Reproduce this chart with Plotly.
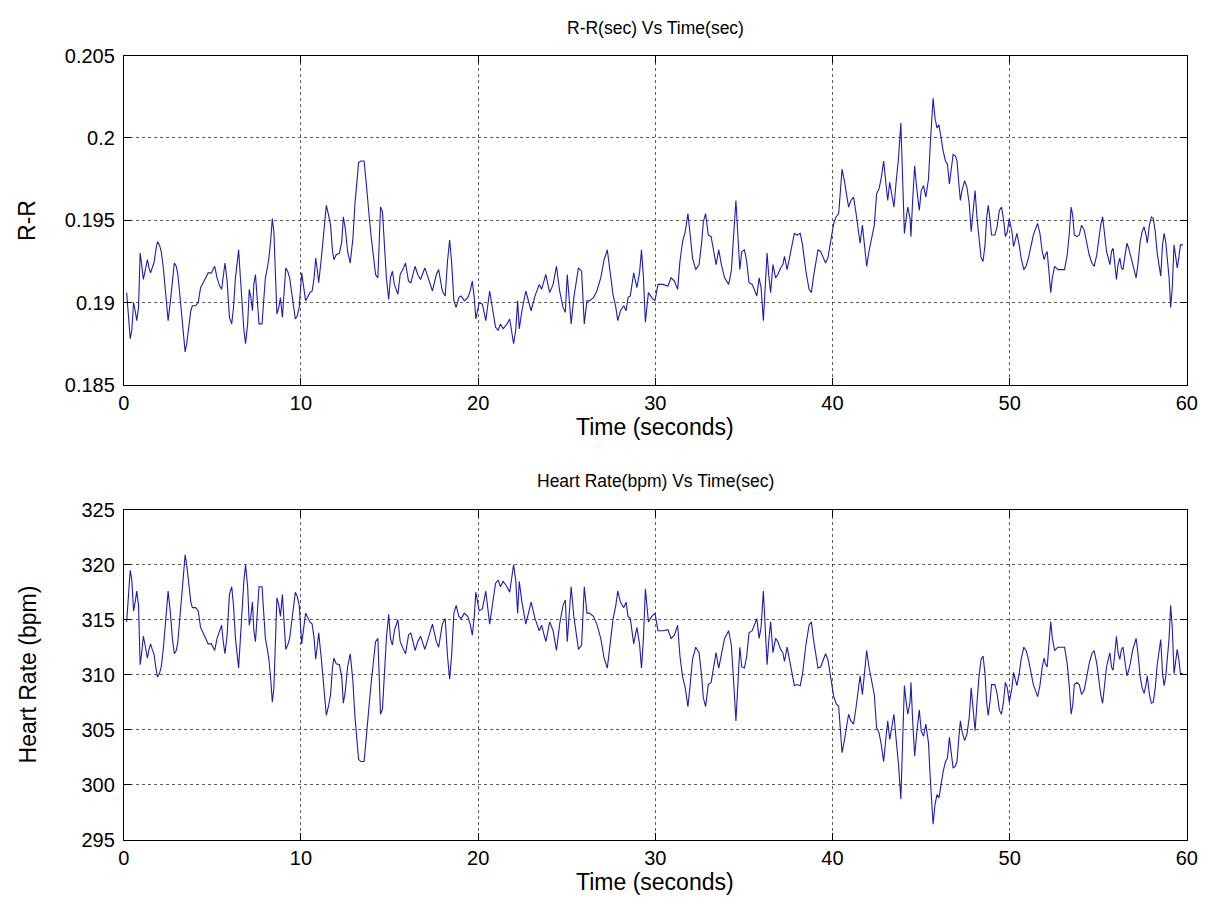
import plotly.graph_objects as go

# ---------------- data ----------------
time_s = [
    0.16, 0.25, 0.36, 0.45, 0.55, 0.64, 0.73, 0.83, 0.92, 1.01,
    1.10, 1.20, 1.33, 1.42, 1.51, 1.60, 1.70, 1.81, 1.90, 2.01,
    2.11, 2.22, 2.35, 2.50, 2.63, 2.74, 2.85, 2.96, 3.05, 3.14,
    3.27, 3.37, 3.46, 3.55, 3.66, 3.78, 3.87, 4.05, 4.20, 4.33,
    4.48, 4.63, 4.76, 4.94, 5.13, 5.26, 5.41, 5.52, 5.61, 5.71,
    5.83, 5.96, 6.09, 6.19, 6.30, 6.39, 6.48, 6.58, 6.69, 6.78,
    6.87, 6.99, 7.08, 7.17, 7.26, 7.34, 7.43, 7.52, 7.63, 7.80,
    7.89, 7.99, 8.10, 8.19, 8.30, 8.38, 8.47, 8.54, 8.64, 8.75,
    8.84, 8.95, 9.04, 9.14, 9.25, 9.36, 9.45, 9.56, 9.68, 9.79,
    9.90,
    10.04, 10.26, 10.50, 10.63, 10.74, 10.83, 10.93, 11.00, 11.15, 11.30,
    11.43, 11.56, 11.67, 11.78, 11.86, 11.99, 12.17, 12.30, 12.39, 12.50,
    12.63, 12.78, 12.93, 13.04, 13.15, 13.25, 13.38, 13.56, 13.67, 13.75,
    13.86, 13.97, 14.08, 14.21, 14.34, 14.42, 14.49, 14.60, 14.71, 14.82,
    14.95, 15.05, 15.16, 15.27, 15.47, 15.60, 15.79, 15.90, 16.07, 16.20,
    16.44, 16.59, 16.75, 16.99, 17.18, 17.42, 17.64, 17.77, 17.98, 18.14,
    18.27, 18.39, 18.50, 18.63, 18.76, 18.91, 19.04, 19.22, 19.41, 19.55,
    19.67, 19.78, 19.87,
    20.06, 20.24, 20.43, 20.65, 20.80, 20.98, 21.13, 21.26, 21.41, 21.63,
    21.78, 22.00, 22.12, 22.23, 22.32, 22.47, 22.69, 22.84, 22.99, 23.21,
    23.45, 23.58, 23.82, 24.04, 24.23, 24.42, 24.60, 24.79, 24.92, 25.03,
    25.25, 25.40, 25.53, 25.66, 25.84, 25.99, 26.14, 26.27, 26.51, 26.70,
    26.92, 27.11, 27.29, 27.44, 27.61, 27.77, 27.88, 28.03, 28.22, 28.35,
    28.46, 28.59, 28.78, 28.96, 29.11, 29.22, 29.33, 29.44, 29.61, 29.80,
    29.98,
    30.15, 30.43, 30.71, 30.89, 31.08, 31.26, 31.39, 31.54, 31.69, 31.84,
    31.95, 32.10, 32.28, 32.47, 32.62, 32.71, 32.84, 32.99, 33.15, 33.30,
    33.43, 33.58, 33.73, 33.91, 34.14, 34.29, 34.42, 34.55, 34.66, 34.77,
    34.88, 35.03, 35.16, 35.29, 35.47, 35.62, 35.73, 35.86, 35.97, 36.10,
    36.22, 36.31, 36.40, 36.51, 36.64, 36.79, 36.92, 37.07, 37.20, 37.29,
    37.44, 37.57, 37.70, 37.85, 38.00, 38.18, 38.31, 38.50, 38.68, 38.81,
    38.92, 39.05, 39.18, 39.33, 39.48, 39.61, 39.74, 39.89,
    40.07, 40.20, 40.35, 40.45, 40.54, 40.67, 40.78, 40.91, 41.04, 41.19,
    41.32, 41.43, 41.56, 41.69, 41.82, 41.93, 42.06, 42.21, 42.36, 42.49,
    42.63, 42.76, 42.89, 43.04, 43.12, 43.23, 43.36, 43.47, 43.60, 43.73,
    43.86, 43.97, 44.06, 44.16, 44.25, 44.38, 44.43, 44.53, 44.64, 44.75,
    44.90, 45.01, 45.14, 45.27, 45.42, 45.51, 45.60, 45.68, 45.79, 45.90,
    46.01, 46.14, 46.25, 46.38, 46.49, 46.60, 46.72, 46.81, 46.94, 47.03,
    47.12, 47.22, 47.31, 47.46, 47.59, 47.72, 47.83, 47.96, 48.05, 48.16,
    48.27, 48.39, 48.50, 48.61, 48.70, 48.79, 48.89, 48.98, 49.17, 49.29,
    49.42, 49.54, 49.65, 49.76, 49.87, 49.98,
    50.13, 50.22, 50.32, 50.41, 50.54, 50.65, 50.80, 50.93, 51.06, 51.19,
    51.34, 51.47, 51.58, 51.71, 51.84, 51.95, 52.02, 52.12, 52.21, 52.32,
    52.41, 52.54, 52.73, 52.91, 53.10, 53.25, 53.36, 53.47, 53.56, 53.65,
    53.80, 53.93, 54.06, 54.21, 54.36, 54.49, 54.64, 54.77, 54.92, 55.05,
    55.14, 55.25, 55.36, 55.47, 55.57, 55.66, 55.75, 55.84, 55.94, 56.03,
    56.12, 56.22, 56.31, 56.40, 56.49, 56.62, 56.72, 56.81, 56.94, 57.05,
    57.14, 57.24, 57.37, 57.48, 57.59, 57.70, 57.77, 57.89, 58.00, 58.11,
    58.22, 58.33, 58.44, 58.53, 58.63, 58.72, 58.81, 58.90, 59.00, 59.09,
    59.18, 59.28, 59.37, 59.46, 59.55, 59.64, 59.78,
]

rr_sec = [
    0.1906, 0.1892, 0.1878, 0.1883, 0.1900, 0.1895, 0.1889, 0.1897, 0.1930, 0.1923,
    0.1914, 0.1919, 0.1926, 0.1921, 0.1918, 0.1921, 0.1924, 0.1932, 0.1937, 0.1935,
    0.1931, 0.1922, 0.1908, 0.1889, 0.1901, 0.1915, 0.1924, 0.1922, 0.1917, 0.1907,
    0.1891, 0.1879, 0.1870, 0.1875, 0.1885, 0.1895, 0.1898, 0.1898, 0.1900, 0.1909,
    0.1912, 0.1915, 0.1918, 0.1918, 0.1922, 0.1915, 0.1910, 0.1908, 0.1917, 0.1924,
    0.1913, 0.1891, 0.1887, 0.1897, 0.1915, 0.1925, 0.1932, 0.1915, 0.1895, 0.1883,
    0.1875, 0.1887, 0.1908, 0.1903, 0.1895, 0.1911, 0.1917, 0.1903, 0.1887, 0.1887,
    0.1901, 0.1915, 0.1921, 0.1927, 0.1939, 0.1951, 0.1943, 0.1923, 0.1893, 0.1897,
    0.1903, 0.1891, 0.1903, 0.1921, 0.1919, 0.1915, 0.1908, 0.1899, 0.1890, 0.1892,
    0.1897,
    0.1918, 0.1901, 0.1906, 0.1907, 0.1915, 0.1927, 0.1919, 0.1912, 0.1927, 0.1943,
    0.1959, 0.1953, 0.1947, 0.1931, 0.1926, 0.1929, 0.1930, 0.1937, 0.1952, 0.1945,
    0.1931, 0.1924, 0.1939, 0.1959, 0.1974, 0.1985, 0.1986, 0.1986, 0.1974, 0.1966,
    0.1951, 0.1939, 0.1927, 0.1917, 0.1915, 0.1935, 0.1958, 0.1955, 0.1935, 0.1915,
    0.1902, 0.1915, 0.1919, 0.1911, 0.1905, 0.1917, 0.1921, 0.1924, 0.1913, 0.1912,
    0.1922, 0.1917, 0.1914, 0.1921, 0.1915, 0.1907, 0.1917, 0.1920, 0.1907, 0.1904,
    0.1925, 0.1938, 0.1925, 0.1901, 0.1897, 0.1903, 0.1904, 0.1901, 0.1903, 0.1907,
    0.1913, 0.1903, 0.1890,
    0.1900, 0.1899, 0.1889, 0.1907, 0.1897, 0.1885, 0.1883, 0.1887, 0.1884, 0.1887,
    0.1890, 0.1875, 0.1883, 0.1901, 0.1884, 0.1895, 0.1907, 0.1901, 0.1895, 0.1904,
    0.1911, 0.1908, 0.1917, 0.1906, 0.1911, 0.1922, 0.1907, 0.1897, 0.1894, 0.1917,
    0.1887, 0.1903, 0.1911, 0.1921, 0.1919, 0.1887, 0.1901, 0.1901, 0.1903, 0.1907,
    0.1915, 0.1926, 0.1932, 0.1919, 0.1905, 0.1897, 0.1889, 0.1895, 0.1898, 0.1895,
    0.1903, 0.1904, 0.1918, 0.1909, 0.1918, 0.1932, 0.1915, 0.1888, 0.1906, 0.1903,
    0.1901,
    0.1911, 0.1911, 0.1910, 0.1915, 0.1913, 0.1908, 0.1925, 0.1937, 0.1943, 0.1954,
    0.1943, 0.1927, 0.1920, 0.1923, 0.1937, 0.1949, 0.1954, 0.1941, 0.1940, 0.1931,
    0.1923, 0.1932, 0.1923, 0.1915, 0.1911, 0.1919, 0.1939, 0.1962, 0.1941, 0.1920,
    0.1931, 0.1932, 0.1925, 0.1912, 0.1911, 0.1907, 0.1904, 0.1915, 0.1909, 0.1889,
    0.1915, 0.1930, 0.1917, 0.1906, 0.1923, 0.1915, 0.1917, 0.1921, 0.1923, 0.1928,
    0.1920, 0.1927, 0.1934, 0.1942, 0.1941, 0.1942, 0.1935, 0.1919, 0.1908, 0.1906,
    0.1915, 0.1925, 0.1932, 0.1931, 0.1927, 0.1924, 0.1927, 0.1937,
    0.1948, 0.1952, 0.1954, 0.1968, 0.1981, 0.1974, 0.1966, 0.1958, 0.1962, 0.1964,
    0.1955, 0.1947, 0.1936, 0.1947, 0.1935, 0.1922, 0.1931, 0.1939, 0.1947, 0.1966,
    0.1969, 0.1976, 0.1986, 0.1970, 0.1962, 0.1973, 0.1966, 0.1958, 0.1974, 0.1988,
    0.2009, 0.1974, 0.1942, 0.1951, 0.1958, 0.1951, 0.1940, 0.1963, 0.1983, 0.1970,
    0.1956, 0.1968, 0.1971, 0.1964, 0.1975, 0.1994, 0.2014, 0.2024, 0.2012, 0.2006,
    0.2008, 0.1999, 0.1992, 0.1986, 0.1984, 0.1972, 0.1982, 0.1990, 0.1989, 0.1986,
    0.1974, 0.1962, 0.1968, 0.1974, 0.1970, 0.1960, 0.1943, 0.1958, 0.1968, 0.1951,
    0.1937, 0.1927, 0.1925, 0.1935, 0.1951, 0.1959, 0.1951, 0.1941, 0.1941, 0.1946,
    0.1956, 0.1958, 0.1951, 0.1940, 0.1943, 0.1951,
    0.1943, 0.1934, 0.1938, 0.1942, 0.1935, 0.1927, 0.1920, 0.1922, 0.1927, 0.1934,
    0.1941, 0.1945, 0.1948, 0.1942, 0.1931, 0.1926, 0.1929, 0.1931, 0.1917, 0.1906,
    0.1915, 0.1922, 0.1920, 0.1920, 0.1920, 0.1929, 0.1941, 0.1958, 0.1953, 0.1941,
    0.1940, 0.1941, 0.1947, 0.1944, 0.1936, 0.1929, 0.1924, 0.1922, 0.1929, 0.1939,
    0.1947, 0.1952, 0.1943, 0.1931, 0.1927, 0.1923, 0.1931, 0.1933, 0.1923, 0.1914,
    0.1923, 0.1927, 0.1921, 0.1920, 0.1927, 0.1936, 0.1933, 0.1929, 0.1922, 0.1919,
    0.1915, 0.1923, 0.1937, 0.1943, 0.1946, 0.1941, 0.1936, 0.1947, 0.1952, 0.1951,
    0.1943, 0.1930, 0.1921, 0.1916, 0.1935, 0.1942, 0.1937, 0.1927, 0.1915, 0.1897,
    0.1909, 0.1935, 0.1929, 0.1921, 0.1927, 0.1935, 0.1935,
]

hr_bpm = [
    314.8, 317.1, 319.5, 318.6, 315.8, 316.6, 317.6, 316.3, 310.9, 312.0,
    313.5, 312.7, 311.5, 312.3, 312.8, 312.3, 311.9, 310.6, 309.8, 310.1,
    310.7, 312.2, 314.5, 317.6, 315.6, 313.3, 311.9, 312.2, 313.0, 314.6,
    317.3, 319.3, 320.9, 320.0, 318.3, 316.6, 316.1, 316.1, 315.8, 314.3,
    313.8, 313.3, 312.8, 312.8, 312.2, 313.3, 314.1, 314.5, 313.0, 311.9,
    313.6, 317.3, 318.0, 316.3, 313.3, 311.7, 310.6, 313.3, 316.6, 318.6,
    320.0, 318.0, 314.5, 315.3, 316.6, 314.0, 313.0, 315.3, 318.0, 318.0,
    315.6, 313.3, 312.3, 311.4, 309.4, 307.5, 308.8, 312.0, 317.0, 316.3,
    315.3, 317.3, 315.3, 312.3, 312.7, 313.3, 314.5, 316.0, 317.5, 317.1,
    316.3,
    312.8, 315.6, 314.8, 314.6, 313.3, 311.4, 312.7, 313.8, 311.4, 308.8,
    306.3, 307.2, 308.2, 310.7, 311.5, 311.0, 310.9, 309.8, 307.4, 308.5,
    310.7, 311.9, 309.4, 306.3, 304.0, 302.3, 302.1, 302.1, 304.0, 305.2,
    307.5, 309.4, 311.4, 313.0, 313.3, 310.1, 306.4, 306.9, 310.1, 313.3,
    315.5, 313.3, 312.7, 314.0, 315.0, 313.0, 312.3, 311.9, 313.6, 313.8,
    312.2, 313.0, 313.5, 312.3, 313.3, 314.6, 313.0, 312.5, 314.6, 315.1,
    311.7, 309.6, 311.7, 315.6, 316.3, 315.3, 315.1, 315.6, 315.3, 314.6,
    313.6, 315.3, 317.5,
    315.8, 316.0, 317.6, 314.6, 316.3, 318.3, 318.6, 318.0, 318.5, 318.0,
    317.5, 320.0, 318.6, 315.6, 318.5, 316.6, 314.6, 315.6, 316.6, 315.1,
    314.0, 314.5, 313.0, 314.8, 314.0, 312.2, 314.6, 316.3, 316.8, 313.0,
    318.0, 315.3, 314.0, 312.3, 312.7, 318.0, 315.6, 315.6, 315.3, 314.6,
    313.3, 311.5, 310.6, 312.7, 315.0, 316.3, 317.6, 316.6, 316.1, 316.6,
    315.3, 315.1, 312.8, 314.3, 312.8, 310.6, 313.3, 317.8, 314.8, 315.3,
    315.6,
    314.0, 314.0, 314.1, 313.3, 313.6, 314.5, 311.7, 309.8, 308.8, 307.1,
    308.8, 311.4, 312.5, 312.0, 309.8, 307.9, 307.1, 309.1, 309.3, 310.7,
    312.0, 310.6, 312.0, 313.3, 314.0, 312.7, 309.4, 305.8, 309.1, 312.5,
    310.7, 310.6, 311.7, 313.8, 314.0, 314.6, 315.1, 313.3, 314.3, 317.6,
    313.3, 310.9, 313.0, 314.8, 312.0, 313.3, 313.0, 312.3, 312.0, 311.2,
    312.5, 311.4, 310.2, 309.0, 309.1, 309.0, 310.1, 312.7, 314.5, 314.8,
    313.3, 311.7, 310.6, 310.7, 311.4, 311.9, 311.4, 309.8,
    308.0, 307.4, 307.1, 304.9, 302.9, 304.0, 305.2, 306.4, 305.8, 305.5,
    306.9, 308.2, 309.9, 308.2, 310.1, 312.2, 310.7, 309.4, 308.2, 305.2,
    304.7, 303.6, 302.1, 304.6, 305.8, 304.1, 305.2, 306.4, 304.0, 301.8,
    298.7, 304.0, 309.0, 307.5, 306.4, 307.5, 309.3, 305.7, 302.6, 304.6,
    306.8, 304.9, 304.4, 305.5, 303.8, 300.9, 297.9, 296.4, 298.2, 299.1,
    298.8, 300.2, 301.2, 302.1, 302.4, 304.3, 302.7, 301.5, 301.7, 302.1,
    304.0, 305.8, 304.9, 304.0, 304.6, 306.1, 308.8, 306.4, 304.9, 307.5,
    309.8, 311.4, 311.7, 310.1, 307.5, 306.3, 307.5, 309.1, 309.1, 308.3,
    306.8, 306.4, 307.5, 309.3, 308.8, 307.5,
    308.8, 310.2, 309.6, 309.0, 310.1, 311.4, 312.5, 312.2, 311.4, 310.2,
    309.1, 308.5, 308.0, 309.0, 310.7, 311.5, 311.0, 310.7, 313.0, 314.8,
    313.3, 312.2, 312.5, 312.5, 312.5, 311.0, 309.1, 306.4, 307.2, 309.1,
    309.3, 309.1, 308.2, 308.6, 309.9, 311.0, 311.9, 312.2, 311.0, 309.4,
    308.2, 307.4, 308.8, 310.7, 311.4, 312.0, 310.7, 310.4, 312.0, 313.5,
    312.0, 311.4, 312.3, 312.5, 311.4, 309.9, 310.4, 311.0, 312.2, 312.7,
    313.3, 312.0, 309.8, 308.8, 308.3, 309.1, 309.9, 308.2, 307.4, 307.5,
    308.8, 310.9, 312.3, 313.2, 310.1, 309.0, 309.8, 311.4, 313.3, 316.3,
    314.3, 310.1, 311.0, 312.3, 311.4, 310.1, 310.1,
]

x_ticks = [0, 10, 20, 30, 40, 50, 60]
x_tick_labels = ["0", "10", "20", "30", "40", "50", "60"]
rr_ticks = [0.185, 0.19, 0.195, 0.2, 0.205]
rr_tick_labels = ["0.185", "0.19", "0.195", "0.2", "0.205"]
hr_ticks = [295, 300, 305, 310, 315, 320, 325]
hr_tick_labels = ["295", "300", "305", "310", "315", "320", "325"]

title_top = "R-R(sec) Vs Time(sec)"
title_bottom = "Heart Rate(bpm) Vs Time(sec)"
x_label = "Time (seconds)"
y_label_top = "R-R"
y_label_bottom = "Heart Rate (bpm)"

# ---------------- figure ----------------
W, H = 1218, 917
FONT = "Liberation Sans, Arial, sans-serif"
LINE = "#1e1ea8"
TICK_SIZE = 20
LABEL_SIZE = 23
TITLE_SIZE = 17.5

x0, x1 = 119.5 / W, 1197.5 / W
top_px = (45.7, 383.0)
bot_px = (511.0, 849.0)
top_dom = [(H - top_px[1]) / H, (H - top_px[0]) / H]
bot_dom = [(H - bot_px[1]) / H, (H - bot_px[0]) / H]

fig = go.Figure()
fig.add_trace(go.Scatter(x=time_s, y=rr_sec, mode="lines", xaxis="x", yaxis="y",
                         line=dict(color=LINE, width=1.1), showlegend=False))
fig.add_trace(go.Scatter(x=time_s, y=hr_bpm, mode="lines", xaxis="x2", yaxis="y2",
                         line=dict(color=LINE, width=1.1), showlegend=False))

axis_common = dict(
    showline=True, linecolor="black", linewidth=1, mirror="ticks",
    ticks="inside", ticklen=7, tickcolor="black", tickwidth=1,
    showgrid=True, gridcolor="rgba(40,40,40,0.75)", gridwidth=1, griddash="dot",
    zeroline=False, tickfont=dict(family=FONT, size=TICK_SIZE, color="black"),
)

fig.update_layout(
    width=W, height=H, autosize=False,
    margin=dict(l=0, r=0, t=0, b=0),
    paper_bgcolor="white", plot_bgcolor="white",
    font=dict(family=FONT, color="black"),
    xaxis=dict(domain=[x0, x1], anchor="y", range=[0, 60],
               tickvals=x_ticks, ticktext=x_tick_labels, **axis_common),
    yaxis=dict(domain=top_dom, anchor="x", range=[0.185, 0.205], ticklabelstandoff=4,
               tickvals=rr_ticks, ticktext=rr_tick_labels, **axis_common),
    xaxis2=dict(domain=[x0, x1], anchor="y2", range=[0, 60],
                tickvals=x_ticks, ticktext=x_tick_labels, **axis_common),
    yaxis2=dict(domain=bot_dom, anchor="x2", range=[295, 325], ticklabelstandoff=4,
                tickvals=hr_ticks, ticktext=hr_tick_labels, **axis_common),
)

xc = (x0 + x1) / 2
ann = [
    dict(text=title_top, x=xc, y=(H - 17) / H, yanchor="middle", font=dict(size=TITLE_SIZE)),
    dict(text=title_bottom, x=xc, y=(H - (bot_px[0] - 29)) / H, yanchor="middle",
         font=dict(size=TITLE_SIZE)),
    dict(text=x_label, x=xc, y=(H - (top_px[1] + 43)) / H, yanchor="middle",
         font=dict(size=LABEL_SIZE)),
    dict(text=x_label, x=xc, y=(H - (bot_px[1] + 43)) / H, yanchor="middle",
         font=dict(size=LABEL_SIZE)),
    dict(text=y_label_top, x=22 / W, y=(top_dom[0] + top_dom[1]) / 2, textangle=-90,
         xanchor="center", yanchor="middle", font=dict(size=LABEL_SIZE)),
    dict(text=y_label_bottom, x=22 / W, y=(bot_dom[0] + bot_dom[1]) / 2, textangle=-90,
         xanchor="center", yanchor="middle", font=dict(size=LABEL_SIZE)),
]
for a in ann:
    a.update(xref="paper", yref="paper", showarrow=False, xanchor=a.get("xanchor", "center"))
    a["font"].update(family=FONT, color="black")
fig.update_layout(annotations=ann)

fig.write_html("out.html")
